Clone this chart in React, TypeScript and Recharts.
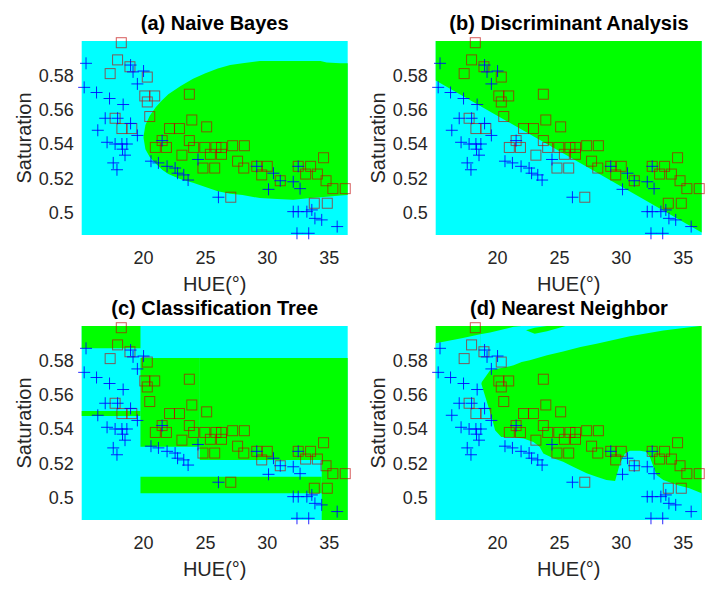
import React from 'react';
import { ComposedChart, XAxis, YAxis, Area, Scatter } from 'recharts';

// ---------- axes ----------
const HUE_DOMAIN: [number, number] = [15.0, 36.5];
const SAT_DOMAIN: [number, number] = [0.487, 0.6];
const X_TICKS = [20, 25, 30, 35];
const Y_TICKS = [0.5, 0.52, 0.54, 0.56, 0.58];
const Y_TICK_LABELS = ['0.5', '0.52', '0.54', '0.56', '0.58'];
const X_LABEL = 'HUE(°)';
const Y_LABEL = 'Saturation';
const TITLES = ['(a) Naive Bayes', '(b) Discriminant Analysis', '(c) Classification Tree', '(d) Nearest Neighbor'];

// ---------- samples ----------
// class 1 (blue +)
const class1Hue = [15.35, 15.2, 16.2, 17.25, 18.35, 18.95, 19.15, 20.0, 19.5, 16.9, 17.9, 18.95, 16.3, 19.5, 17.05, 17.7, 18.25, 18.65, 18.3, 18.5, 17.55, 17.85, 21.5, 20.6, 21.2, 21.9, 22.55, 22.75, 23.25, 23.6, 24.4, 26.05, 29.15, 30.1, 30.5, 31.05, 32.1, 32.65, 32.5, 32.1, 32.5, 33.2, 33.6, 33.85, 34.4, 35.65, 32.4, 33.35];
const class1Sat = [0.587, 0.573, 0.570, 0.5665, 0.563, 0.586, 0.582, 0.5825, 0.575, 0.555, 0.555, 0.552, 0.548, 0.545, 0.541, 0.540, 0.540, 0.540, 0.537, 0.5335, 0.529, 0.525, 0.542, 0.530, 0.529, 0.527, 0.526, 0.523, 0.522, 0.519, 0.531, 0.509, 0.527, 0.5136, 0.523, 0.5186, 0.518, 0.514, 0.527, 0.5006, 0.5006, 0.5006, 0.5016, 0.4967, 0.4958, 0.4919, 0.488, 0.488];
// class 2 (red squares)
const class2Hue = [18.2, 17.9, 17.3, 18.9, 20.3, 20.1, 20.9, 20.3, 23.7, 20.5, 17.7, 18.25, 19.05, 22.1, 22.9, 23.9, 25.1, 21.5, 20.95, 21.85, 23.7, 24.05, 24.95, 25.85, 26.3, 27.2, 28.15, 23.1, 25.4, 26.3, 27.6, 24.8, 25.75, 28.1, 29.15, 30.0, 29.55, 31.05, 32.5, 33.5, 34.55, 33.1, 34.05, 34.75, 35.3, 36.3, 27.05, 33.8, 34.85];
const class2Sat = [0.599, 0.589, 0.581, 0.585, 0.579, 0.568, 0.568, 0.5645, 0.569, 0.556, 0.555, 0.549, 0.549, 0.549, 0.549, 0.554, 0.550, 0.542, 0.538, 0.538, 0.542, 0.538, 0.538, 0.538, 0.538, 0.539, 0.539, 0.5335, 0.534, 0.534, 0.530, 0.526, 0.526, 0.526, 0.527, 0.527, 0.522, 0.5186, 0.527, 0.527, 0.532, 0.5225, 0.5225, 0.5186, 0.514, 0.514, 0.509, 0.5055, 0.5055];

// ---------- decision regions ----------
// (a) Naive Bayes: green region between lower and upper boundary
const nbX = [20.0, 20.15, 20.5, 21.0, 21.5, 22.0, 23.0, 24.0, 25.0, 26.0, 27.0, 28.0, 29.4, 30.8, 32.1, 33.5, 34.3, 34.8, 35.9, 36.5];
const nbLo = [0.5435, 0.537, 0.5325, 0.5285, 0.525, 0.5225, 0.5195, 0.5175, 0.515, 0.5125, 0.511, 0.5103, 0.5085, 0.508, 0.5075, 0.5085, 0.509, 0.5093, 0.510, 0.5103];
const nbHi = [0.5445, 0.551, 0.5565, 0.5615, 0.5655, 0.569, 0.5738, 0.578, 0.5812, 0.584, 0.586, 0.587, 0.5883, 0.5883, 0.5883, 0.5883, 0.5883, 0.5875, 0.587, 0.587];
// (b) Discriminant analysis: linear boundary, green above
const ldaX = [15.0, 36.5];
const ldaBoundary = [0.577, 0.4885];
// (c) Classification tree: green rectangles
const treeX1 = [15.0, 15.0, 19.75, 24.55, 19.75, 34.4];
const treeX2 = [19.75, 19.75, 24.55, 36.5, 34.4, 36.5];
const treeY1 = [0.587, 0.5476, 0.5296, 0.5219, 0.5026, 0.487];
const treeY2 = [0.6, 0.5505, 0.5813, 0.5813, 0.5122, 0.5219];
// (d) Nearest neighbour: cyan lower region (top edge), cyan band, green streak
const knnLowX = [15.0, 17.2, 18.6, 18.7, 19.6, 19.8, 20.3, 21.0, 22.1, 22.9, 23.4, 23.7, 24.5, 25.3, 26.1, 27.2, 28.0, 28.8, 29.5, 29.9, 30.3, 30.7, 31.5, 32.0, 32.3, 32.6, 32.85, 33.4, 34.5, 35.5, 36.5];
const knnLowHi = [0.590, 0.593, 0.5952, 0.566, 0.545, 0.5393, 0.5354, 0.5354, 0.5345, 0.5325, 0.5296, 0.5258, 0.5229, 0.5209, 0.518, 0.5142, 0.5122, 0.5103, 0.5097, 0.520, 0.5258, 0.5273, 0.5274, 0.5267, 0.5238, 0.518, 0.5132, 0.5103, 0.5074, 0.5055, 0.5026];
const knnBandX = [18.6, 19.4, 21.0, 21.3, 21.95, 22.6, 24.0, 25.3, 26.7, 28.0, 30.7, 33.4, 36.35];
const knnBandLo = [0.566, 0.5742, 0.5765, 0.5771, 0.579, 0.580, 0.5829, 0.5852, 0.5877, 0.5897, 0.594, 0.5974, 0.6];
const knnBandHi = [0.5952, 0.5962, 0.599, 0.5995, 0.6, 0.6, 0.6, 0.6, 0.6, 0.6, 0.6, 0.6, 0.6];
const knnStreakX = [22.3, 23.0, 24.0, 25.5];
const knnStreakLo = [0.5975, 0.5955, 0.597, 0.6];
const knnStreakHi = [0.5975, 0.599, 0.6, 0.6];

const CYAN = '#00ffff';
const GREEN = '#00ff00';

type Pt = { x: number; r: [number, number] };
const range = (xs: number[], lo: number[], hi: number[]): Pt[] =>
  xs.map((x, i) => ({ x, r: [lo[i], hi[i]] }));
const full = range(HUE_DOMAIN, [SAT_DOMAIN[0], SAT_DOMAIN[0]], [SAT_DOMAIN[1], SAT_DOMAIN[1]]);

const class1 = class1Hue.map((x, i) => ({ x, y: class1Sat[i] }));
const class2 = class2Hue.map((x, i) => ({ x, y: class2Sat[i] }));

type Region = { data: Pt[]; color: string };

const panels: { left: number; top: number; title: string; regions: Region[] }[] = [
  {
    left: 0, top: 0, title: TITLES[0],
    regions: [
      { data: full, color: CYAN },
      { data: range(nbX, nbLo, nbHi), color: GREEN },
    ],
  },
  {
    left: 354.3, top: 0, title: TITLES[1],
    regions: [
      { data: full, color: CYAN },
      { data: range(ldaX, ldaBoundary, [SAT_DOMAIN[1], SAT_DOMAIN[1]]), color: GREEN },
    ],
  },
  {
    left: 0, top: 284.5, title: TITLES[2],
    regions: [
      { data: full, color: CYAN },
      ...treeX1.map((x1, i) => ({
        data: range([x1, treeX2[i]], [treeY1[i], treeY1[i]], [treeY2[i], treeY2[i]]),
        color: GREEN,
      })),
    ],
  },
  {
    left: 354.3, top: 284.5, title: TITLES[3],
    regions: [
      { data: full, color: GREEN },
      { data: range(knnLowX, knnLowX.map(() => SAT_DOMAIN[0]), knnLowHi), color: CYAN },
      { data: range(knnBandX, knnBandLo, knnBandHi), color: CYAN },
      { data: range(knnStreakX, knnStreakLo, knnStreakHi), color: GREEN },
    ],
  },
];

const FONT = '"Liberation Sans", Arial, Helvetica, sans-serif';
const AXIS_COLOR = '#262626';

const plusShape = (props: any) => {
  const { cx, cy } = props;
  if (cx == null || cy == null) return <g />;
  const s = 6;
  return (
    <path d={`M${cx - s},${cy}H${cx + s}M${cx},${cy - s}V${cy + s}`} stroke="#0000ff" strokeOpacity={0.85} strokeWidth={1} fill="none" />
  );
};

const squareShape = (props: any) => {
  const { cx, cy } = props;
  if (cx == null || cy == null) return <g />;
  const s = 5;
  return <rect x={cx - s} y={cy - s} width={2 * s} height={2 * s} stroke="#c00000" strokeOpacity={0.65} strokeWidth={1} fill="none" />;
};

const yFmt = (v: number) => {
  const i = Y_TICKS.indexOf(v);
  return i >= 0 ? Y_TICK_LABELS[i] : String(v);
};

function Panel({ left, top, title, regions }: { left: number; top: number; title: string; regions: Region[] }) {
  return (
    <div style={{ position: 'absolute', left, top, width: 360, height: 300 }}>
      <ComposedChart width={360} height={300} margin={{ top: 41, right: 12.3, bottom: 0, left: 0 }}>
        <XAxis
          type="number"
          dataKey="x"
          domain={HUE_DOMAIN}
          ticks={X_TICKS}
          axisLine={false}
          tickLine={false}
          tickSize={6}
          tickMargin={10}
          height={65}
          tick={{ fontSize: 18, fill: AXIS_COLOR, fontFamily: FONT }}
          label={{ value: X_LABEL, position: 'insideBottom', offset: 9, fontSize: 20, fill: AXIS_COLOR, fontFamily: FONT }}
        />
        <YAxis
          type="number"
          dataKey="y"
          domain={SAT_DOMAIN}
          ticks={Y_TICKS}
          tickFormatter={yFmt}
          axisLine={false}
          tickLine={false}
          tickSize={6}
          tickMargin={2}
          width={81.7}
          tick={{ fontSize: 18, fill: AXIS_COLOR, fontFamily: FONT }}
          label={{ value: Y_LABEL, angle: -90, position: 'insideLeft', offset: 24, fontSize: 20, fill: AXIS_COLOR, fontFamily: FONT, style: { textAnchor: 'middle' } }}
        />
        {regions.map((reg, i) => (
          <Area
            key={i}
            data={reg.data}
            dataKey="r"
            type="linear"
            fill={reg.color}
            fillOpacity={1}
            stroke="none"
            dot={false}
            activeDot={false}
            isAnimationActive={false}
          />
        ))}
        <Scatter data={class2} shape={squareShape} isAnimationActive={false} />
        <Scatter data={class1} shape={plusShape} isAnimationActive={false} />
      </ComposedChart>
      <div
        style={{
          position: 'absolute', left: 61.7, width: 306, top: 13, textAlign: 'center',
          fontFamily: FONT, fontWeight: 'bold', fontSize: 20, lineHeight: '20px', whiteSpace: 'nowrap', color: '#000',
        }}
      >
        {title}
      </div>
    </div>
  );
}

export default function App() {
  return (
    <div style={{ position: 'absolute', left: 0, top: 0, width: 712, height: 591, background: '#fff', overflow: 'hidden' }}>
      {panels.map((p, i) => (
        <Panel key={i} {...p} />
      ))}
    </div>
  );
}
